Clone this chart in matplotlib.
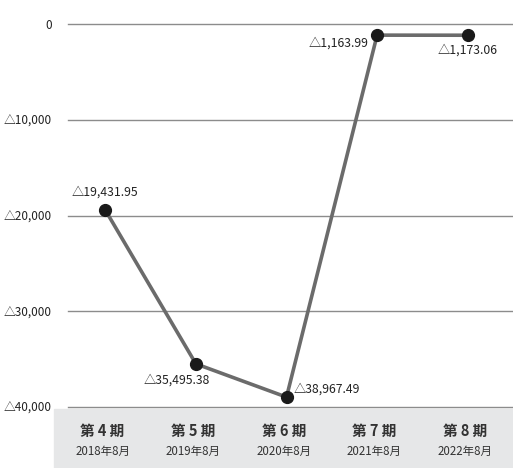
import matplotlib.pyplot as plt
from matplotlib.patches import Rectangle
from matplotlib import transforms

plt.rcParams['font.family'] = ['Noto Sans CJK JP', 'DejaVu Sans']

# Data
periods = ['第 4 期', '第 5 期', '第 6 期', '第 7 期', '第 8 期']
dates = ['2018年8月', '2019年8月', '2020年8月', '2021年8月', '2022年8月']
values = [-19431.95, -35495.38, -38967.49, -1163.99, -1173.06]
y_ticks = [0, -10000, -20000, -30000, -40000]

def fmt_tri(v, dec=2):
    if v == 0:
        return '0'
    return '△' + format(abs(v), ',.%df' % dec)

# label placement (offset points, ha, va)
label_pos = [
    ((0, 8), 'center', 'bottom'),
    ((-14, -7), 'center', 'top'),
    ((5, 6), 'left', 'center'),
    ((-6, -6), 'right', 'center'),
    ((0, -6), 'center', 'top'),
]

W, H = 513, 468
fig = plt.figure(figsize=(W / 100, H / 100), dpi=100)
fig.patch.set_facecolor('white')

# gray band behind category labels
fig.patches.append(Rectangle((54 / W, 0), (W - 54) / W, (468 - 409) / H,
                             transform=fig.transFigure, color='#e6e7e8', zorder=-1))

ax = fig.add_axes([60 / W, 61 / H, 453 / W, 383 / H])
ax.set_facecolor('none')
ax.set_xlim(-0.5, 4.5)
ax.set_ylim(-40000, 0)
for s in ax.spines.values():
    s.set_visible(False)

for t in y_ticks:
    ax.axhline(t, xmin=8 / 453, xmax=1, color='#8c8c8c', lw=1.0, zorder=1, clip_on=False)

x = list(range(len(values)))
ax.plot(x, values, color='#6b6b6b', lw=2.6, zorder=2, clip_on=False)
ax.plot(x, values, 'o', color='#1a1a1a', ms=8.5, zorder=3, clip_on=False)

for i, v in enumerate(values):
    off, ha, va = label_pos[i]
    ax.annotate(fmt_tri(v), (i, v), xytext=off, textcoords='offset points',
                ha=ha, va=va, fontsize=8.8, color='#222222')

ax.set_xticks([])
ax.set_yticks(y_ticks)
ax.set_yticklabels([fmt_tri(t, 0) for t in y_ticks], fontsize=8.5, color='#222222')
ax.tick_params(axis='y', length=0, pad=6)

trans = transforms.blended_transform_factory(ax.transData, fig.transFigure)
for i in range(len(periods)):
    ax.text(i - 0.03, (468 - 431) / H, periods[i], transform=trans, ha='center', va='center',
            fontsize=10.5, fontweight='bold', color='#333333')
    ax.text(i - 0.03, (468 - 451) / H, dates[i], transform=trans, ha='center', va='center',
            fontsize=8.3, color='#333333')

fig.savefig('out.png', dpi=100)
